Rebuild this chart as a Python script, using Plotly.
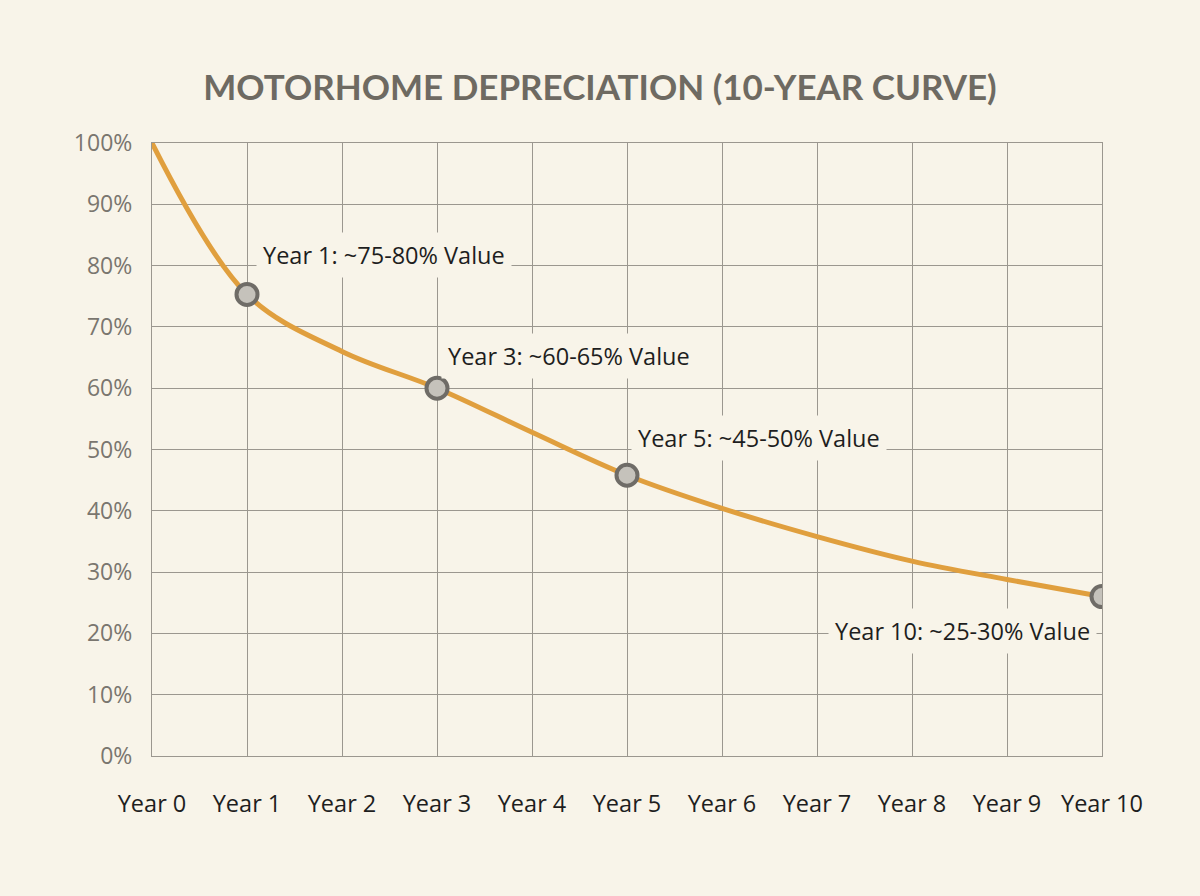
import plotly.graph_objects as go

years = list(range(11))
year_labels = [f"Year {y}" for y in years]
values = [100, 75.3, 66.0, 60.0, 52.8, 45.8, 40.4, 35.8, 31.8, 28.8, 26.0]

marker_years = [1, 3, 5, 10]
marker_values = [75.3, 60.0, 45.8, 26.0]
marker_texts = ["Year 1: ~75-80% Value", "Year 3: ~60-65% Value",
                "Year 5: ~45-50% Value", "Year 10: ~25-30% Value"]

y_ticks = list(range(0, 101, 10))
y_tick_labels = [f"{v}%" for v in y_ticks]

BG = "#f8f4e9"
GRID = "#9b978f"

fig = go.Figure()
fig.add_trace(go.Scatter(
    x=years, y=values, mode="lines",
    line=dict(color="#e09f3e", width=5, shape="spline", smoothing=1.0),
    hoverinfo="skip", showlegend=False))
fig.add_trace(go.Scatter(
    x=marker_years, y=marker_values, mode="markers",
    marker=dict(size=21, color="#c5c2bb", line=dict(color="#6f6c67", width=4)),
    showlegend=False))

shifts = [(9, 39, "left"), (4, 32, "left"), (4, 37, "left"), (-5, -34, "right")]
for (xx, yy, t, (dx, dy, anc)) in zip(marker_years, marker_values, marker_texts, shifts):
    fig.add_annotation(x=xx, y=yy, xref="x", yref="y", text=t, showarrow=False,
                       xanchor=anc, yanchor="middle", xshift=dx, yshift=dy,
                       font=dict(family="Open Sans", size=23.5, color="#1e1e1e"),
                       bgcolor=BG, borderpad=6)

fig.update_layout(
    width=1200, height=896,
    paper_bgcolor=BG, plot_bgcolor=BG,
    margin=dict(l=152, r=98, t=143, b=140),
    title=dict(text="<b>MOTORHOME DEPRECIATION (10-YEAR CURVE)</b>",
               x=0.5, xanchor="center", y=1 - 88 / 896, yanchor="middle",
               yref="container",
               font=dict(family="Lato", size=35, color="#6e6a62")),
)
fig.update_xaxes(range=[0, 10], tickvals=years, ticktext=year_labels,
                 showgrid=True, gridcolor=GRID, gridwidth=1.2, zeroline=False,
                 showline=True, linecolor=GRID, linewidth=1.2, mirror=True,
                 ticks="", ticklabelstandoff=27,
                 tickfont=dict(family="Open Sans", size=23.5, color="#1e1e1e"))
fig.update_yaxes(range=[0, 100], tickvals=y_ticks, ticktext=y_tick_labels,
                 showgrid=True, gridcolor=GRID, gridwidth=1.2, zeroline=False,
                 showline=True, linecolor=GRID, linewidth=1.2, mirror=True,
                 ticks="", ticklabelstandoff=14,
                 tickfont=dict(family="Open Sans", size=23, color="#7a766f"))

fig.write_html("out.html")
